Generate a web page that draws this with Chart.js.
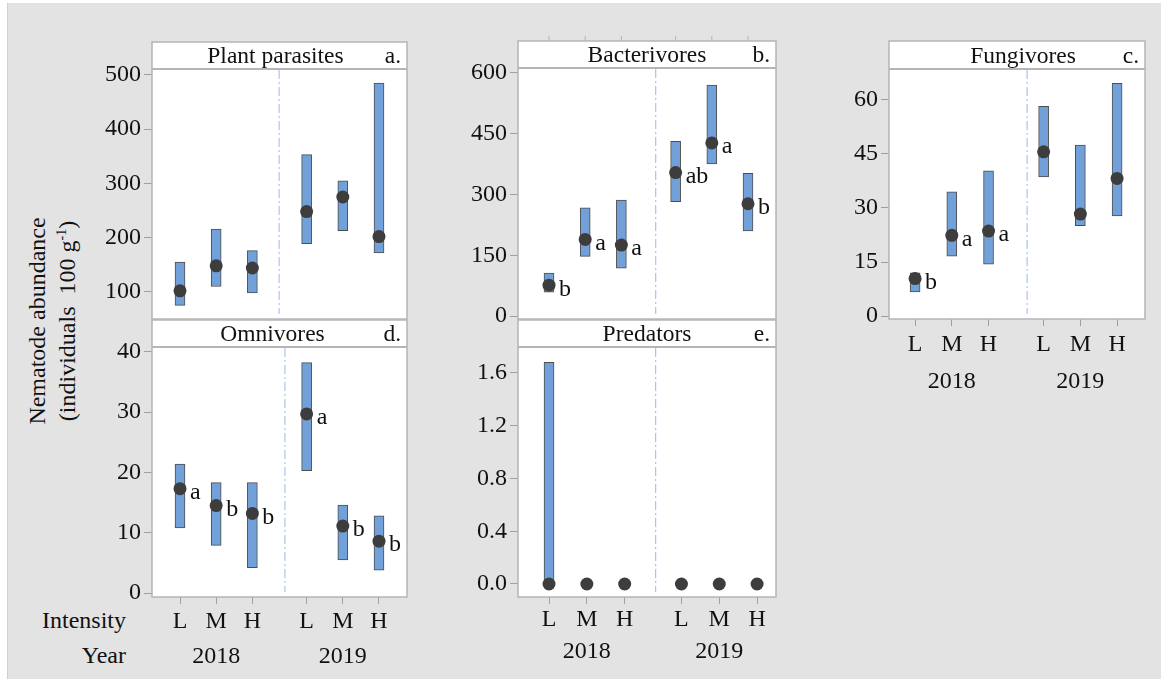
<!DOCTYPE html>
<html lang="en">
<head>
  <meta charset="utf-8">
  <title>Nematode abundance by intensity and year</title>
  <script src="https://cdn.jsdelivr.net/npm/chart.js"></script>
  <style>
    body { margin: 0; background: #fff; }
    #page { position: relative; width: 1161px; height: 679px; overflow: hidden; background: #fff; }
    #bg { position: absolute; left: 7px; top: 3px; width: 1154px; height: 676px; background: #e3e3e3; border-left: 1px solid #cfcfcf; }
    canvas { position: absolute; }
    .lbl { position: absolute; font-family: "Liberation Serif", "Times New Roman", serif; font-size: 24px; color: #111; white-space: nowrap; }
    .ytitle { position: absolute; font-family: "Liberation Serif", "Times New Roman", serif; font-size: 24px; color: #111; white-space: nowrap;
              transform: translate(-50%, -50%) rotate(-90deg); text-align: center; }
  </style>
</head>
<body>
<div id="page">
  <div id="bg"></div>
  <div class="ytitle" style="left:37px; top:321px;">Nematode abundance</div>
  <div class="ytitle" style="left:67px; top:321px;">(individuals&nbsp; 100 g<sup style="font-size:14px">-1</sup>)</div>
  <div class="lbl" style="right:1035px; top:607px;">Intensity</div>
  <div class="lbl" style="right:1035px; top:642px;">Year</div>
  <canvas id="pa"></canvas>
  <canvas id="pb"></canvas>
  <canvas id="pc"></canvas>
  <canvas id="pd"></canvas>
  <canvas id="pe"></canvas>
</div>

<script>
  // categories
  const intensity = ['L', 'M', 'H', 'L', 'M', 'H'];
  const years = ['2018', '2019'];
  const xPos = [0, 1, 2, 3.5, 4.5, 5.5];

  // a. plant parasites
  const ppLow  = [75, 110, 98, 189, 213, 172];
  const ppHigh = [155, 216, 176, 353, 305, 485];
  const ppMean = [102, 148, 144, 248, 275, 202];
  const ppLetters = ['', '', '', '', '', ''];
  const ppTicks = [100, 200, 300, 400, 500];

  // b. bacterivores
  const bacLow  = [59, 147, 118, 282, 375, 210];
  const bacHigh = [106, 267, 286, 431, 570, 352];
  const bacMean = [76, 189, 175, 354, 427, 277];
  const bacLetters = ['b', 'a', 'a', 'ab', 'a', 'b'];
  const bacTicks = [0, 150, 300, 450, 600];

  // c. fungivores
  const funLow  = [6.7, 16.6, 14.4, 38.6, 25.1, 27.8];
  const funHigh = [12.0, 34.5, 40.3, 58.2, 47.5, 64.6];
  const funMean = [10.4, 22.4, 23.6, 45.6, 28.3, 38.2];
  const funLetters = ['b', 'a', 'a', '', '', ''];
  const funTicks = [0, 15, 30, 45, 60];

  // d. omnivores
  const omnLow  = [10.8, 7.9, 4.2, 20.3, 5.5, 3.8];
  const omnHigh = [21.4, 18.3, 18.3, 38.2, 14.6, 12.8];
  const omnMean = [17.3, 14.5, 13.2, 29.7, 11.1, 8.6];
  const omnLetters = ['a', 'b', 'b', 'a', 'b', 'b'];
  const omnTicks = [0, 10, 20, 30, 40];

  // e. predators
  const predLow  = [0, null, null, null, null, null];
  const predHigh = [1.68, null, null, null, null, null];
  const predMean = [0, 0, 0, 0, 0, 0];
  const predLetters = ['', '', '', '', '', ''];
  const predTicks = [0, 0.4, 0.8, 1.2, 1.6];

  const FONT = '"Liberation Serif", "Times New Roman", serif';

  // draws the panel box, header strip, divider and letters
  const panelFrame = {
    id: 'panelFrame',
    beforeDraw(chart, args, o) {
      const ctx = chart.ctx, a = chart.chartArea;
      ctx.save();
      ctx.fillStyle = '#fff';
      ctx.fillRect(a.left, o.headTop, a.right - a.left, a.bottom - o.headTop);
      ctx.fillStyle = '#111';
      ctx.font = '23.5px ' + FONT;
      ctx.textBaseline = 'alphabetic';
      ctx.textAlign = 'center';
      ctx.fillText(o.title, (a.left + a.right) / 2 + o.titleShift, a.top - 6);
      ctx.textAlign = 'right';
      ctx.fillText(o.tag, a.right - 6, a.top - 6);
      ctx.restore();
    },
    beforeDatasetsDraw(chart, args, o) {
      const ctx = chart.ctx, a = chart.chartArea;
      const x = chart.scales.x.getPixelForValue(o.divider);
      ctx.save();
      ctx.strokeStyle = '#9db6e6';
      ctx.lineWidth = 1;
      ctx.setLineDash([9, 3, 2, 3]);
      ctx.beginPath();
      ctx.moveTo(x, a.top + 1);
      ctx.lineTo(x, a.bottom - 5);
      ctx.stroke();
      ctx.restore();
    },
    afterDatasetsDraw(chart, args, o) {
      const ctx = chart.ctx;
      const pts = chart.getDatasetMeta(1).data;
      ctx.save();
      ctx.fillStyle = '#111';
      ctx.font = '24px ' + FONT;
      ctx.textAlign = 'left';
      ctx.textBaseline = 'middle';
      o.letters.forEach((t, i) => {
        if (t) ctx.fillText(t, pts[i].x + 10, pts[i].y + 4);
      });
      ctx.restore();
    },
    afterDraw(chart, args, o) {
      const ctx = chart.ctx, a = chart.chartArea;
      ctx.save();
      ctx.strokeStyle = '#b5b5b5';
      ctx.lineWidth = 1.5;
      ctx.strokeRect(a.left, o.headTop, a.right - a.left, a.bottom - o.headTop);
      ctx.lineWidth = 2;
      ctx.beginPath();
      ctx.moveTo(a.left, a.top);
      ctx.lineTo(a.right, a.top);
      ctx.stroke();
      if (o.topTicks) {
        ctx.lineWidth = 1;
        xPos.forEach(v => {
          const x = chart.scales.x.getPixelForValue(v);
          ctx.beginPath();
          ctx.moveTo(x, o.headTop - 5);
          ctx.lineTo(x, o.headTop);
          ctx.stroke();
        });
      }
      ctx.restore();
    }
  };

  function makePanel(id, p) {
    const cx = p.fx0 - 80, cy = p.hy0 - 10;
    const W = (p.fx1 - p.fx0) + 90;
    const H = (p.py1 - cy) + (p.showX ? 80 : 20);
    const canvas = document.getElementById(id);
    canvas.width = W;
    canvas.height = H;
    canvas.style.left = cx + 'px';
    canvas.style.top = cy + 'px';

    const bars = [], dots = [];
    xPos.forEach((x, i) => {
      if (p.low[i] !== null) bars.push({ x: x, y: [p.low[i], p.high[i]] });
      dots.push({ x: x, y: p.mean[i] });
    });

    new Chart(canvas, {
      type: 'bar',
      data: {
        datasets: [{
          type: 'bar',
          data: bars,
          backgroundColor: '#72a0d8',
          borderColor: '#4d4d4d',
          borderWidth: 1,
          borderSkipped: false,
          barThickness: 10,
          order: 2
        }, {
          type: 'line',
          data: dots,
          showLine: false,
          pointRadius: 6.5,
          pointBackgroundColor: '#3d3d3d',
          pointBorderWidth: 0,
          order: 1
        }]
      },
      options: {
        responsive: false,
        animation: false,
        layout: { padding: { left: 0, right: 10, top: p.hy1 - cy, bottom: p.showX ? 4 : 20 } },
        plugins: {
          legend: { display: false },
          tooltip: { enabled: false },
          panelFrame: {
            title: p.title, tag: p.tag, titleShift: p.titleShift || 0,
            headTop: 10, divider: p.divider, letters: p.letters, topTicks: !!p.topTicks
          }
        },
        scales: {
          x: {
            type: 'linear',
            display: p.showX,
            min: p.xmin, max: p.xmax,
            offset: false,
            grid: { offset: false, drawOnChartArea: false, tickLength: 7, color: '#a0a0a0' },
            border: { display: false },
            afterBuildTicks: s => { s.ticks = xPos.map(v => ({ value: v })); },
            afterFit: s => { s.height = p.showX ? 76 : 0; },
            ticks: {
              autoSkip: false, maxRotation: 0, padding: 0, color: '#111',
              font: { family: FONT, size: 24, lineHeight: p.lineGap / 24 },
              callback: (v, i) => [intensity[i], i === 1 ? years[0] : (i === 4 ? years[1] : '')]
            }
          },
          y: {
            min: p.ymin, max: p.ymax,
            grid: { drawOnChartArea: false, tickLength: 8, color: '#a0a0a0' },
            border: { display: false },
            afterBuildTicks: s => { s.ticks = p.ticks.map(v => ({ value: v })); },
            afterFit: s => { s.width = 80; },
            ticks: {
              padding: 3, color: '#111',
              font: { family: FONT, size: 24 },
              callback: (v, i) => p.decimals ? p.ticks[i].toFixed(p.decimals) : String(p.ticks[i])
            }
          }
        }
      },
      plugins: [panelFrame]
    });
  }

  makePanel('pa', { fx0: 152, fx1: 407, hy0: 42, hy1: 69, py1: 319, showX: false,
    xmin: -0.774, xmax: 6.274, ymin: 50, ymax: 511, divider: 2.74,
    low: ppLow, high: ppHigh, mean: ppMean, letters: ppLetters, ticks: ppTicks,
    title: 'Plant parasites', tag: 'a.', titleShift: -4, lineGap: 35 });

  makePanel('pb', { fx0: 518, fx1: 776, hy0: 41, hy1: 68, py1: 319, showX: false, topTicks: true,
    xmin: -0.857, xmax: 6.274, ymin: -7.4, ymax: 612, divider: 2.95,
    low: bacLow, high: bacHigh, mean: bacMean, letters: bacLetters, ticks: bacTicks,
    title: 'Bacterivores', tag: 'b.', lineGap: 35 });

  makePanel('pc', { fx0: 889, fx1: 1145, hy0: 41, hy1: 69, py1: 319, showX: true,
    xmin: -0.71, xmax: 6.26, ymin: -0.83, ymax: 68.6, divider: 3.05,
    low: funLow, high: funHigh, mean: funMean, letters: funLetters, ticks: funTicks,
    title: 'Fungivores', tag: 'c.', titleShift: 6, lineGap: 37 });

  makePanel('pd', { fx0: 152, fx1: 407, hy0: 320, hy1: 347, py1: 597, showX: true,
    xmin: -0.774, xmax: 6.274, ymin: -0.66, ymax: 40.8, divider: 2.9,
    low: omnLow, high: omnHigh, mean: omnMean, letters: omnLetters, ticks: omnTicks,
    title: 'Omnivores', tag: 'd.', titleShift: -7, lineGap: 35 });

  makePanel('pe', { fx0: 518, fx1: 776, hy0: 320, hy1: 347, py1: 597, showX: true,
    xmin: -0.82, xmax: 6.0, ymin: -0.0986, ymax: 1.797, divider: 2.82,
    low: predLow, high: predHigh, mean: predMean, letters: predLetters, ticks: predTicks,
    decimals: 1, title: 'Predators', tag: 'e.', lineGap: 32 });
</script>
</body>
</html>
